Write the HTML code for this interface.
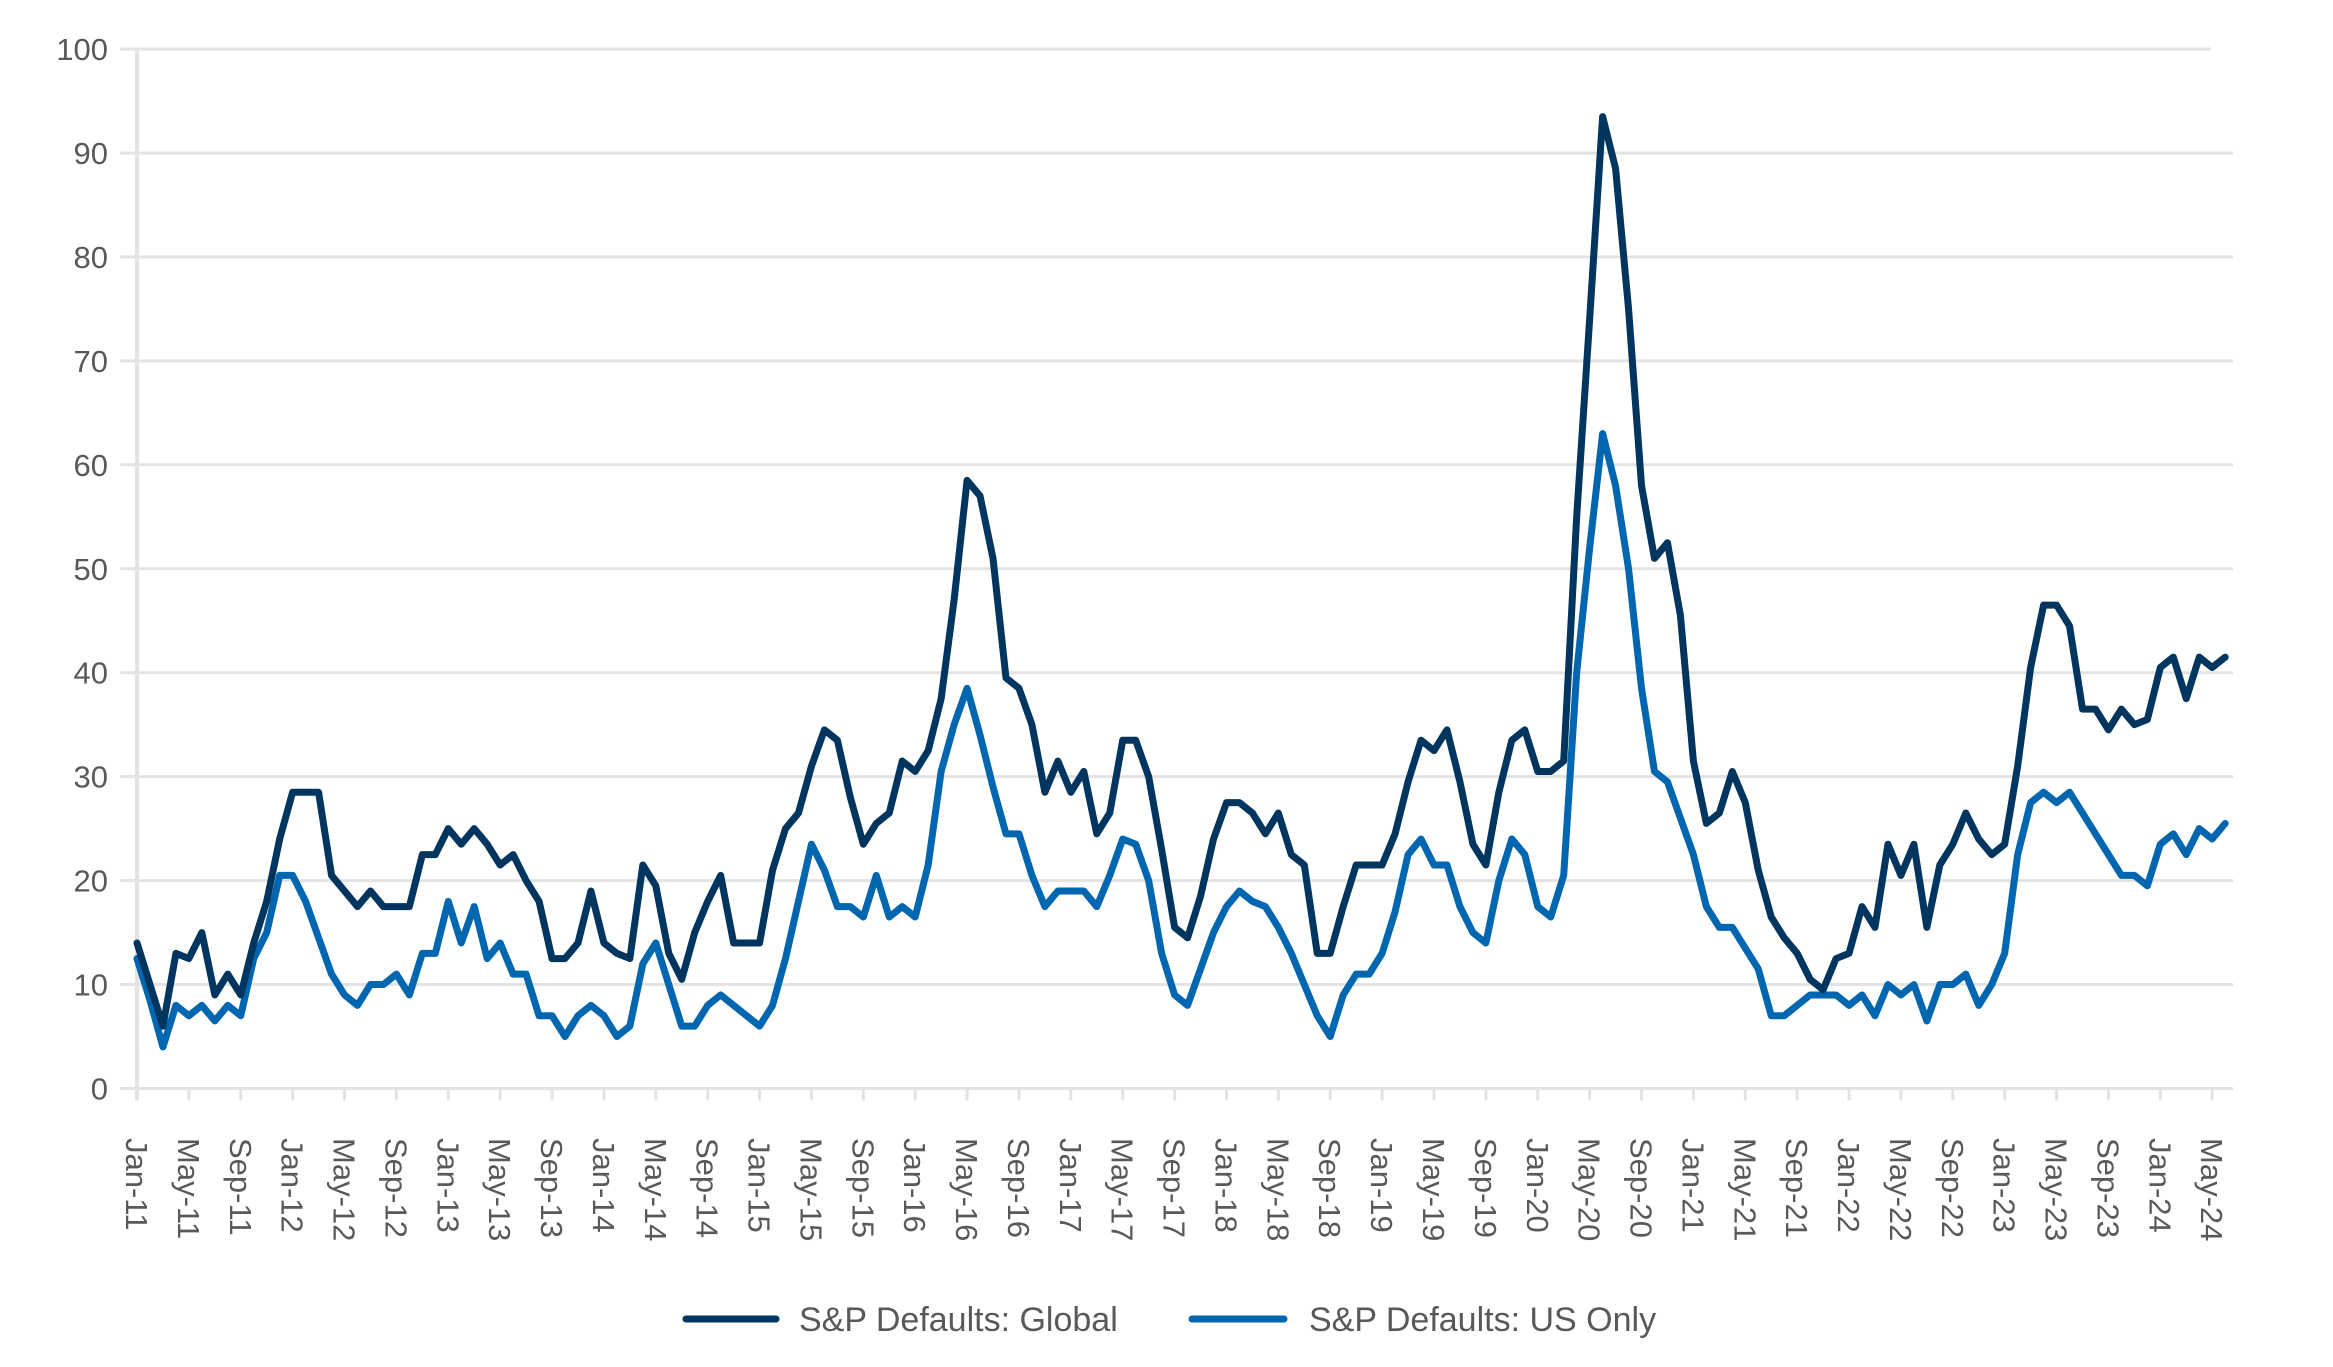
<!DOCTYPE html>
<html><head><meta charset="utf-8"><style>
html,body{margin:0;padding:0;background:#fff;width:2333px;height:1367px;overflow:hidden}
svg text{font-family:"Liberation Sans Narrow","Liberation Sans",sans-serif;fill:#595959}
</style></head><body>
<svg id="c" width="2333" height="1367" xmlns="http://www.w3.org/2000/svg">
<g id="grid"></g>
<polyline id="us" fill="none" stroke="#0066b0" stroke-width="7" stroke-linejoin="round" stroke-linecap="round"/>
<polyline id="gl" fill="none" stroke="#00355f" stroke-width="7" stroke-linejoin="round" stroke-linecap="round"/>
<g id="lbl"></g>
<line x1="686" y1="1319" x2="776" y2="1319" stroke="#00355f" stroke-width="7" stroke-linecap="round"/>
<text x="799" y="1331" font-size="34" font-family="Liberation Sans">S&amp;P Defaults: Global</text>
<line x1="1192" y1="1319" x2="1284" y2="1319" stroke="#0066b0" stroke-width="7" stroke-linecap="round"/>
<text x="1309" y="1331" font-size="34" font-family="Liberation Sans">S&amp;P Defaults: US Only</text>
</svg>
<script>
var G=[14,10,6,13,12.5,15,9,11,9,14,18,24,
28.5,28.5,28.5,20.5,19,17.5,19,17.5,17.5,17.5,22.5,22.5,
25,23.5,25,23.5,21.5,22.5,20,18,12.5,12.5,14,19,
14,13,12.5,21.5,19.5,13,10.5,15,18,20.5,14,14,
14,21,25,26.5,31,34.5,33.5,28,23.5,25.5,26.5,31.5,
30.5,32.5,37.5,47,58.5,57,51,39.5,38.5,35,28.5,31.5,
28.5,30.5,24.5,26.5,33.5,33.5,30,23,15.5,14.5,18.5,24,
27.5,27.5,26.5,24.5,26.5,22.5,21.5,13,13,17.5,21.5,21.5,
21.5,24.5,29.5,33.5,32.5,34.5,29.5,23.5,21.5,28.5,33.5,34.5,
30.5,30.5,31.5,55,74,93.5,88.5,75,58,51,52.5,45.5,
31.5,25.5,26.5,30.5,27.5,21,16.5,14.5,13,10.5,9.5,12.5,
13,17.5,15.5,23.5,20.5,23.5,15.5,21.5,23.5,26.5,24,22.5,
23.5,31,40.5,46.5,46.5,44.5,36.5,36.5,34.5,36.5,35,35.5,
40.5,41.5,37.5,41.5,40.5,41.5];
var U=[12.5,8.5,4,8,7,8,6.5,8,7,12.5,15,20.5,
20.5,18,14.5,11,9,8,10,10,11,9,13,13,
18,14,17.5,12.5,14,11,11,7,7,5,7,8,
7,5,6,12,14,10,6,6,8,9,8,7,
6,8,12.5,18,23.5,21,17.5,17.5,16.5,20.5,16.5,17.5,
16.5,21.5,30.5,35,38.5,34,29,24.5,24.5,20.5,17.5,19,
19,19,17.5,20.5,24,23.5,20,13,9,8,11.5,15,
17.5,19,18,17.5,15.5,13,10,7,5,9,11,11,
13,17,22.5,24,21.5,21.5,17.5,15,14,20,24,22.5,
17.5,16.5,20.5,40,52,63,58,50,38.5,30.5,29.5,26,
22.5,17.5,15.5,15.5,13.5,11.5,7,7,8,9,9,9,
8,9,7,10,9,10,6.5,10,10,11,8,10,
13,22.5,27.5,28.5,27.5,28.5,26.5,24.5,22.5,20.5,20.5,19.5,
23.5,24.5,22.5,25,24,25.5];
var x0=137,dx=12.97,y0=1088.5,dy=10.395;
function X(i){return x0+i*dx}function Y(v){return y0-v*dy}
var ns="http://www.w3.org/2000/svg";
function el(t,a,p,txt){var e=document.createElementNS(ns,t);for(var k in a)e.setAttribute(k,a[k]);if(txt)e.textContent=txt;document.getElementById(p).appendChild(e);return e}
for(var v=0;v<=100;v+=10){var y=Y(v);el("line",{x1:120,x2:v==100?2211:2233,y1:y,y2:y,stroke:"#e3e3e3","stroke-width":3},"grid");
el("text",{x:108,y:y+11,"font-size":31,"text-anchor":"end","font-family":"Liberation Sans"},"lbl",String(v))}
el("line",{x1:x0,x2:x0,y1:Y(100),y2:Y(0)+12,stroke:"#e3e3e3","stroke-width":4},"grid");
var m=["Jan","May","Sep"];
for(var i=0;i<162;i+=4){var yr=11+Math.floor(i/12);var x=X(i);
el("line",{x1:x,x2:x,y1:Y(0),y2:Y(0)+12,stroke:"#e3e3e3","stroke-width":3},"grid");
el("text",{x:0,y:0,"font-size":31,transform:"translate("+(x-11)+",1138) rotate(90)","font-family":"Liberation Sans Narrow, Liberation Sans, sans-serif"},"lbl",m[(i%12)/4]+"-"+yr);}
document.getElementById("gl").setAttribute("points",G.map(function(v,i){return X(i)+","+Y(v)}).join(" "));
document.getElementById("us").setAttribute("points",U.map(function(v,i){return X(i)+","+Y(v)}).join(" "));
</script>
</body></html>
